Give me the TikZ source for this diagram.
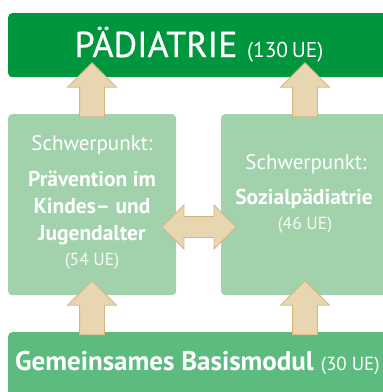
\documentclass[tikz,border=0pt]{standalone}
\usepackage{fontspec}
\setmainfont{PT Sans}
\usetikzlibrary{shapes.arrows}
\definecolor{topgreen}{RGB}{0,150,62}
\definecolor{boxgreen}{RGB}{162,210,172}
\definecolor{basegreen}{RGB}{93,187,128}
\definecolor{arrowfill}{RGB}{232,214,176}
\definecolor{arrowedge}{RGB}{214,180,130}
\tikzset{
  panel/.style={draw=none, rounded corners=4pt, anchor=north west, inner sep=0pt},
  uparrow/.style={single arrow, draw=arrowedge, fill=arrowfill, line width=0.8pt,
    inner xsep=0pt, inner ysep=12pt, single arrow head extend=12pt,
    minimum height=54pt, rotate=90, text height=0pt, text depth=0pt},
  sidearrow/.style={double arrow, draw=arrowedge, fill=arrowfill, line width=0.8pt,
    inner xsep=0pt, inner ysep=10pt, double arrow head extend=11.5pt,
    minimum height=74pt, text height=0pt, text depth=0pt},
  txt/.style={inner sep=0pt, anchor=base, text=white},
  light/.style={txt, text=white!92!boxgreen},
  regtxt/.style={txt, font=\fontsize{21}{24}\selectfont},
  boldtxt/.style={txt, font=\fontsize{21.5}{24}\selectfont\bfseries},
  smalltxt/.style={light, font=\fontsize{17.5}{20}\selectfont},
}
\begin{document}
\begin{tikzpicture}[x=1pt,y=-1pt]
\useasboundingbox (0,0) rectangle (383,392);
\fill[white] (0,0) rectangle (383,392);
% panels
\node[panel, fill=topgreen, minimum width=390pt, minimum height=64pt] (top) at (8,13) {};
\node[panel, fill=boxgreen, minimum width=168pt, minimum height=181pt] (left) at (8,114) {};
\node[panel, fill=boxgreen, minimum width=175pt, minimum height=181pt] (right) at (221,114) {};
\node[panel, fill=basegreen, minimum width=390pt, minimum height=70pt] (base) at (8,332) {};
% arrows
\node[uparrow] (aul) at (92,96) {};
\node[uparrow] (aur) at (305,96) {};
\node[uparrow] (all) at (92,314) {};
\node[uparrow] (alr) at (305,314) {};
\node[sidearrow] (amid) at (199,227) {};
% texts
\node[txt] (ttop) at (199,57) {\fontsize{36}{40}\selectfont\addfontfeature{FakeBold=0.6}PÄDIATRIE\ \fontsize{21.5}{24}\selectfont\addfontfeature{FakeBold=0}(130\,UE)};
\node[txt] (tbase) at (197.5,370) {\fontsize{27}{30}\selectfont\bfseries Gemeinsames Basismodul\ \fontsize{19}{22}\selectfont\mdseries(30 UE)};
\node[regtxt] (l1) at (92,150) {Schwerpunkt:};
\node[boldtxt] (l2) at (92,186) {Prävention im};
\node[boldtxt] (l3) at (92,213) {Kindes– und};
\node[boldtxt] (l4) at (92,240) {Jugendalter};
\node[smalltxt] (l5) at (92,265) {(54 UE)};
\node[regtxt] (r1) at (306,169) {Schwerpunkt:};
\node[boldtxt] (r2) at (304,204) {Sozialpädiatrie};
\node[smalltxt] (r3) at (305,229) {(46 UE)};
\end{tikzpicture}
\end{document}
